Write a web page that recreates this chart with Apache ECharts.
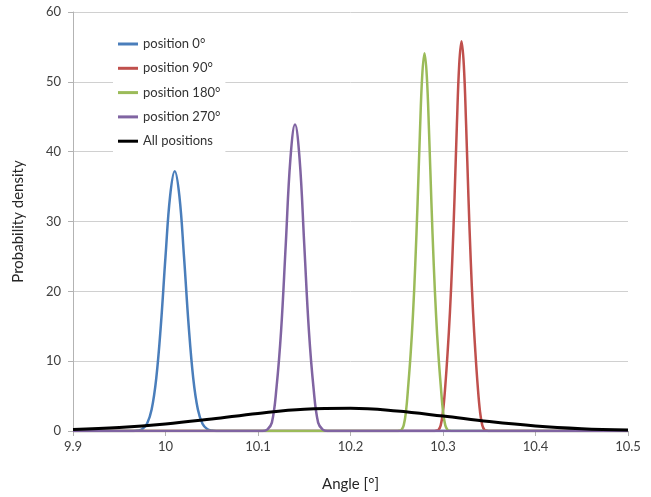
<!DOCTYPE html>
<html>
<head>
<meta charset="utf-8">
<script src="https://cdn.jsdelivr.net/npm/echarts@6/dist/echarts.min.js"></script>
<style>
  html, body { margin: 0; padding: 0; background: #fff; }
  #chart { width: 651px; height: 497px; }
</style>
</head>
<body>
<div id="chart"></div>
<script>
// series names
var seriesNames = ['position 0°', 'position 90°', 'position 180°', 'position 270°', 'All positions'];

// position 0°
var xPos0 = [9.9, 9.965, 9.97, 9.975, 9.98, 9.985, 9.99, 9.995, 10.0, 10.005, 10.01,
  10.015, 10.02, 10.025, 10.03, 10.035, 10.04, 10.045, 10.05, 10.055, 10.5];
var yPos0 = [0, 0.01, 0.06, 0.28, 1.03, 3.08, 7.55, 15.17, 24.97, 33.67, 37.2,
  33.67, 24.97, 15.17, 7.55, 3.08, 1.03, 0.28, 0.06, 0.01, 0];

// position 90°
var xPos90 = [9.9, 10.29, 10.2925, 10.295, 10.2975, 10.3, 10.3025, 10.305, 10.3075, 10.31, 10.3125, 10.315, 10.3175, 10.32,
  10.3225, 10.325, 10.3275, 10.33, 10.3325, 10.335, 10.3375, 10.34, 10.3425, 10.345, 10.3475, 10.35, 10.5];
var yPos90 = [0, 0, 0.05, 0.15, 0.8, 2.8, 6.5, 11.3, 17.0, 24.4, 33.5, 43.8, 52.4, 55.8,
  52.4, 43.8, 33.5, 24.4, 17.0, 11.3, 6.5, 2.8, 0.8, 0.15, 0.05, 0, 0];

// position 180°
var xPos180 = [9.9, 10.25, 10.2525, 10.255, 10.2575, 10.26, 10.2625, 10.265, 10.2675, 10.27, 10.2725, 10.275, 10.2775, 10.28,
  10.2825, 10.285, 10.2875, 10.29, 10.2925, 10.295, 10.2975, 10.3, 10.3025, 10.305, 10.3075, 10.31, 10.5];
var yPos180 = [0, 0, 0.03, 0.15, 0.8, 2.8, 6.6, 11.0, 16.6, 23.8, 32.6, 42.5, 50.8, 54.1,
  50.8, 42.5, 32.6, 23.8, 16.6, 11.0, 6.6, 2.8, 0.8, 0.15, 0.03, 0, 0];

// position 270°
var xPos270 = [9.9, 10.105, 10.11, 10.115, 10.12, 10.125, 10.13, 10.135, 10.14,
  10.145, 10.15, 10.155, 10.16, 10.165, 10.17, 10.175, 10.5];
var yPos270 = [0, 0, 0.2, 1.2, 6.2, 14.4, 26.7, 38.9, 43.9,
  38.9, 26.7, 14.4, 6.2, 1.2, 0.2, 0, 0];

// all positions
var xAll = [9.9, 9.95, 10.0, 10.05, 10.1, 10.15, 10.2, 10.25, 10.3, 10.35, 10.4, 10.45, 10.5];
var yAll = [0.21, 0.50, 1.01, 1.73, 2.52, 3.11, 3.24, 2.86, 2.14, 1.35, 0.72, 0.33, 0.13];

var colors = ['#4a7ebb', '#c0504d', '#9bbb59', '#8064a2', '#000000'];
var widths = [2.5, 2.5, 2.5, 2.5, 3];

function pairs (xs, ys) {
  return xs.map(function (x, i) { return [x, ys[i]] })
}

var allData = [
  pairs(xPos0, yPos0),
  pairs(xPos90, yPos90),
  pairs(xPos180, yPos180),
  pairs(xPos270, yPos270),
  pairs(xAll, yAll)
];

var chart = echarts.init(document.getElementById('chart'));
var font = 'Lato, "Open Sans", sans-serif';

chart.setOption({
  animation: false,
  color: colors,
  grid: { left: 73, right: 23, top: 12, bottom: 61 },
  legend: {
    orient: 'vertical',
    left: 113,
    top: 32,
    padding: [5, 5, 8, 5],
    backgroundColor: '#ffffff',
    icon: 'rect',
    itemWidth: 20,
    itemHeight: 3,
    itemGap: 10.3,
    textStyle: { fontFamily: font, fontSize: 13, color: '#333333', lineHeight: 14 },
    data: seriesNames
  },
  xAxis: {
    type: 'value',
    min: 9.9,
    max: 10.5,
    interval: 0.1,
    name: 'Angle [°]',
    nameLocation: 'middle',
    nameGap: 46,
    nameTextStyle: { fontFamily: font, fontSize: 15, color: '#262626' },
    axisLine: { show: true, lineStyle: { color: '#b3b3b3', width: 1 } },
    axisTick: { show: true, length: 5, lineStyle: { color: '#b3b3b3' } },
    axisLabel: { fontFamily: font, fontSize: 13, color: '#404040', margin: 9 },
    splitLine: { show: false }
  },
  yAxis: {
    type: 'value',
    min: 0,
    max: 60,
    interval: 10,
    name: 'Probability density',
    nameLocation: 'middle',
    nameGap: 47,
    nameTextStyle: { fontFamily: font, fontSize: 15, color: '#262626' },
    axisLine: { show: true, lineStyle: { color: '#b3b3b3', width: 1 } },
    axisTick: { show: true, length: 5, lineStyle: { color: '#b3b3b3' } },
    axisLabel: { fontFamily: font, fontSize: 13, color: '#404040', margin: 12 },
    splitLine: { show: true, lineStyle: { color: '#d0d0d0', width: 1 } }
  },
  series: seriesNames.map(function (name, i) {
    return {
      name: name,
      type: 'line',
      data: allData[i],
      showSymbol: false,
      smooth: 0.4,
      lineStyle: { width: widths[i], color: colors[i] },
      itemStyle: { color: colors[i] }
    }
  })
});
</script>
</body>
</html>
